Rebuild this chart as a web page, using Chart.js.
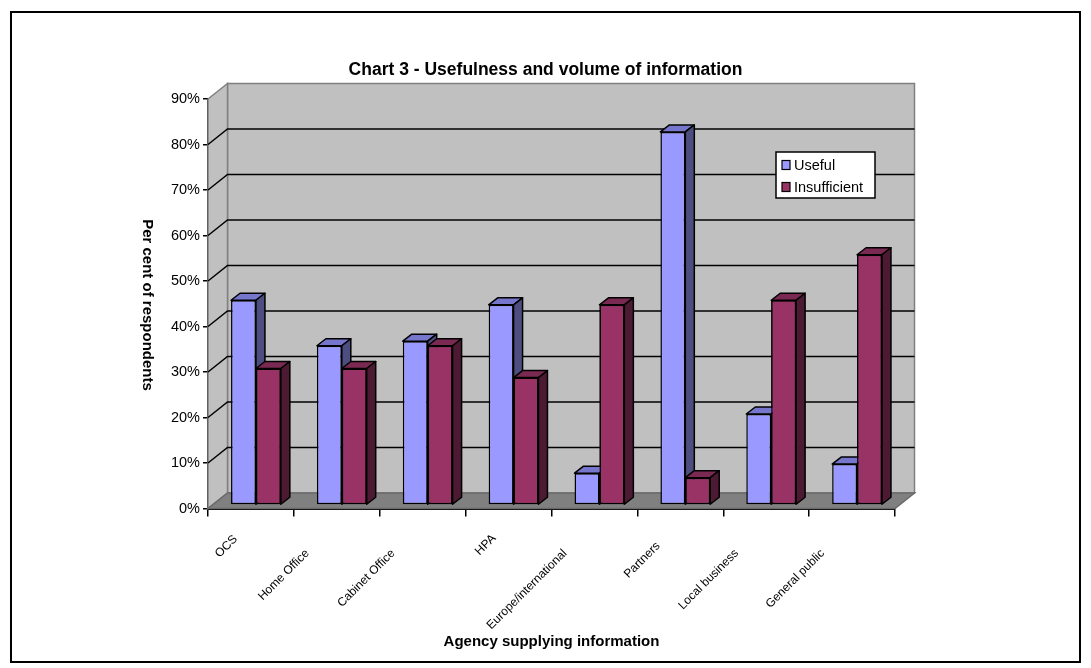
<!DOCTYPE html>
<html>
<head>
<meta charset="utf-8">
<script src="https://cdn.jsdelivr.net/npm/chart.js@4.4.1/dist/chart.umd.min.js"></script>
<style>
  html, body { margin: 0; padding: 0; background: #fff; }
  #wrap { position: relative; width: 1091px; height: 668px; }
</style>
</head>
<body>
<div id="wrap"><canvas id="c" width="1091" height="668"></canvas></div>
<script>
// ---- data ----
const categories = ['OCS', 'Home Office', 'Cabinet Office', 'HPA', 'Europe/international', 'Partners', 'Local business', 'General public'];
const useful = [45, 35, 36, 44, 7, 82, 20, 9];
const insufficient = [30, 30, 35, 28, 44, 6, 45, 55];
const seriesNames = ['Useful', 'Insufficient'];
const yMax = 90;
const yStep = 10;
const chartTitle = 'Chart 3 - Usefulness and volume of information';
const xTitle = 'Agency supplying information';
const yTitle = 'Per cent of respondents';

// ---- look ----
const FONT = '"Liberation Sans", Arial, sans-serif';
const colors = {
  useful: { front: '#9999FF', top: '#7676CC', side: '#4D4D80' },
  insufficient: { front: '#993366', top: '#7A2952', side: '#4D1A33' }
};
const WALL = { dx: 19.5, dy: -15.5 };     // depth of walls / floor
const BAR_SHIFT = { dx: 5, dy: -3.5 };     // bar row sits slightly behind the front axes
const BAR_DEPTH = { dx: 9, dy: -7 };       // extrusion of each column

function drawBox(ctx, el, c) {
  const p = el.getProps(['x', 'y', 'base', 'width'], true);
  const l = p.x - p.width / 2, r = p.x + p.width / 2;
  const t = Math.min(p.y, p.base), b = Math.max(p.y, p.base);
  const { dx, dy } = BAR_DEPTH;
  ctx.save();
  ctx.lineWidth = 1.5;
  ctx.strokeStyle = '#000';
  ctx.lineJoin = 'round';
  ctx.beginPath();
  ctx.moveTo(l, t); ctx.lineTo(l + dx, t + dy); ctx.lineTo(r + dx, t + dy); ctx.lineTo(r, t);
  ctx.closePath();
  ctx.fillStyle = c.top; ctx.fill(); ctx.stroke();
  ctx.beginPath();
  ctx.moveTo(r, t); ctx.lineTo(r + dx, t + dy); ctx.lineTo(r + dx, b + dy); ctx.lineTo(r, b);
  ctx.closePath();
  ctx.fillStyle = c.side; ctx.fill(); ctx.stroke();
  ctx.restore();
}

const scene3d = {
  id: 'scene3d',
  beforeDraw(chart) {
    const ctx = chart.ctx;
    ctx.save();
    ctx.fillStyle = '#fff';
    ctx.fillRect(0, 0, chart.width, chart.height);
    ctx.strokeStyle = '#000';
    ctx.lineWidth = 2;
    ctx.strokeRect(11, 12, 1069, 650);
    ctx.restore();
  },
  beforeDatasetsDraw(chart) {
    const ctx = chart.ctx;
    const { left, right, top, bottom } = chart.chartArea;
    const ys = chart.scales.y;
    ctx.save();
    // back wall
    ctx.fillStyle = '#C0C0C0';
    ctx.strokeStyle = '#808080';
    ctx.lineWidth = 1.5;
    ctx.beginPath();
    ctx.rect(left + WALL.dx, top + WALL.dy, right - left, bottom - top);
    ctx.fill(); ctx.stroke();
    // side wall
    ctx.beginPath();
    ctx.moveTo(left, top); ctx.lineTo(left + WALL.dx, top + WALL.dy);
    ctx.lineTo(left + WALL.dx, bottom + WALL.dy); ctx.lineTo(left, bottom);
    ctx.closePath();
    ctx.fill(); ctx.stroke();
    // floor
    ctx.fillStyle = '#808080';
    ctx.strokeStyle = '#6a6a6a';
    ctx.beginPath();
    ctx.moveTo(left, bottom); ctx.lineTo(right, bottom);
    ctx.lineTo(right + WALL.dx, bottom + WALL.dy); ctx.lineTo(left + WALL.dx, bottom + WALL.dy);
    ctx.closePath();
    ctx.fill(); ctx.stroke();
    // gridlines on side and back walls
    ctx.strokeStyle = '#000';
    ctx.lineWidth = 1.5;
    for (let v = yStep; v < yMax; v += yStep) {
      const y = ys.getPixelForValue(v);
      ctx.beginPath();
      ctx.moveTo(left, y);
      ctx.lineTo(left + WALL.dx, y + WALL.dy);
      ctx.lineTo(right + WALL.dx, y + WALL.dy);
      ctx.stroke();
    }
    ctx.restore();
    // columns are drawn in a plane just behind the front axes
    ctx.save();
    ctx.translate(BAR_SHIFT.dx, BAR_SHIFT.dy);
  },
  afterDatasetsDraw(chart) {
    const ctx = chart.ctx;
    const m0 = chart.getDatasetMeta(0);
    const m1 = chart.getDatasetMeta(1);
    for (let i = 0; i < categories.length; i++) {
      drawBox(ctx, m0.data[i], colors.useful);
      m1.data[i].draw(ctx);
      drawBox(ctx, m1.data[i], colors.insufficient);
    }
    ctx.restore();
  },
  afterDraw(chart) {
    const ctx = chart.ctx;
    const xs = chart.scales.x;
    // slanted category labels: short names are centred under the tick,
    // long ones hang from a common end point
    ctx.save();
    ctx.font = '12px ' + FONT;
    ctx.fillStyle = '#000';
    ctx.textAlign = 'right';
    ctx.textBaseline = 'middle';
    const s = Math.SQRT1_2;
    chart.data.labels.forEach((lab, i) => {
      const x = xs.getPixelForTick(i);
      const w = ctx.measureText(lab).width;
      const t = Math.max(0, (66 - w) / 2);
      ctx.save();
      ctx.translate(x - 29.5 + t * s, 551.5 - t * s);
      ctx.rotate(-Math.PI / 4);
      ctx.fillText(lab, 0, 0);
      ctx.restore();
    });
    ctx.restore();
    // y axis title, reading top to bottom
    ctx.save();
    ctx.translate(147, 305);
    ctx.rotate(Math.PI / 2);
    ctx.font = 'bold 15px ' + FONT;
    ctx.fillStyle = '#000';
    ctx.textAlign = 'center';
    ctx.textBaseline = 'middle';
    ctx.fillText(yTitle, 0, 0);
    ctx.restore();
    // legend box
    const lx = 776, ly = 152, lw = 99, lh = 46;
    ctx.save();
    ctx.fillStyle = '#fff';
    ctx.strokeStyle = '#000';
    ctx.lineWidth = 1.5;
    ctx.fillRect(lx, ly, lw, lh);
    ctx.strokeRect(lx, ly, lw, lh);
    ctx.font = '14.5px ' + FONT;
    ctx.textBaseline = 'middle';
    chart.data.datasets.forEach((ds, k) => {
      const cy = ly + 13 + k * 22;
      ctx.fillStyle = ds.backgroundColor;
      ctx.fillRect(lx + 6, cy - 4.5, 8, 9);
      ctx.lineWidth = 1.2;
      ctx.strokeRect(lx + 6, cy - 4.5, 8, 9);
      ctx.fillStyle = '#000';
      ctx.fillText(ds.label, lx + 18, cy + 0.5);
    });
    ctx.restore();
  }
};

const barCommon = {
  borderColor: '#000',
  borderWidth: 1.5,
  borderSkipped: false,
  inflateAmount: 0,
  categoryPercentage: 0.58,
  barPercentage: 1,
  clip: false
};

new Chart(document.getElementById('c'), {
  type: 'bar',
  data: {
    labels: categories,
    datasets: [
      Object.assign({ label: seriesNames[0], data: useful, backgroundColor: colors.useful.front }, barCommon),
      Object.assign({ label: seriesNames[1], data: insufficient, backgroundColor: colors.insufficient.front }, barCommon)
    ]
  },
  plugins: [scene3d],
  options: {
    responsive: false,
    animation: false,
    devicePixelRatio: 1,
    layout: { padding: { left: 0, right: 0, top: 0, bottom: 17 } },
    plugins: {
      legend: { display: false },
      tooltip: { enabled: false },
      title: {
        display: true,
        text: chartTitle,
        color: '#000',
        font: { family: FONT, size: 17.5, weight: 'bold' },
        padding: { top: 59.5, bottom: 18.5 }
      }
    },
    scales: {
      x: {
        grid: { offset: true, drawOnChartArea: false, drawTicks: true, tickLength: 8, color: '#000', lineWidth: 1.5 },
        border: { display: true, color: '#000', width: 2 },
        ticks: { display: false, autoSkip: false },
        title: { display: true, text: xTitle, color: '#000', font: { family: FONT, size: 15, weight: 'bold' }, padding: { top: 0, bottom: 0 } },
        afterFit(s) { s.height = 668 - 17 - 508.5; }
      },
      y: {
        min: 0,
        max: yMax,
        grid: { drawOnChartArea: false, drawTicks: true, tickLength: 5, color: '#000', lineWidth: 1.5 },
        border: { display: true, color: '#000', width: 2 },
        ticks: { stepSize: yStep, padding: 3, color: '#000', font: { family: FONT, size: 14.5 }, callback: v => v + '%' },
        afterFit(s) { s.width = 208; }
      },
      // empty margin on the right of the plot
      yRight: {
        axis: 'y',
        position: 'right',
        display: true,
        grid: { display: false },
        border: { display: false },
        ticks: { display: false },
        afterFit(s) { s.width = 196; }
      }
    }
  }
});
</script>
</body>
</html>
